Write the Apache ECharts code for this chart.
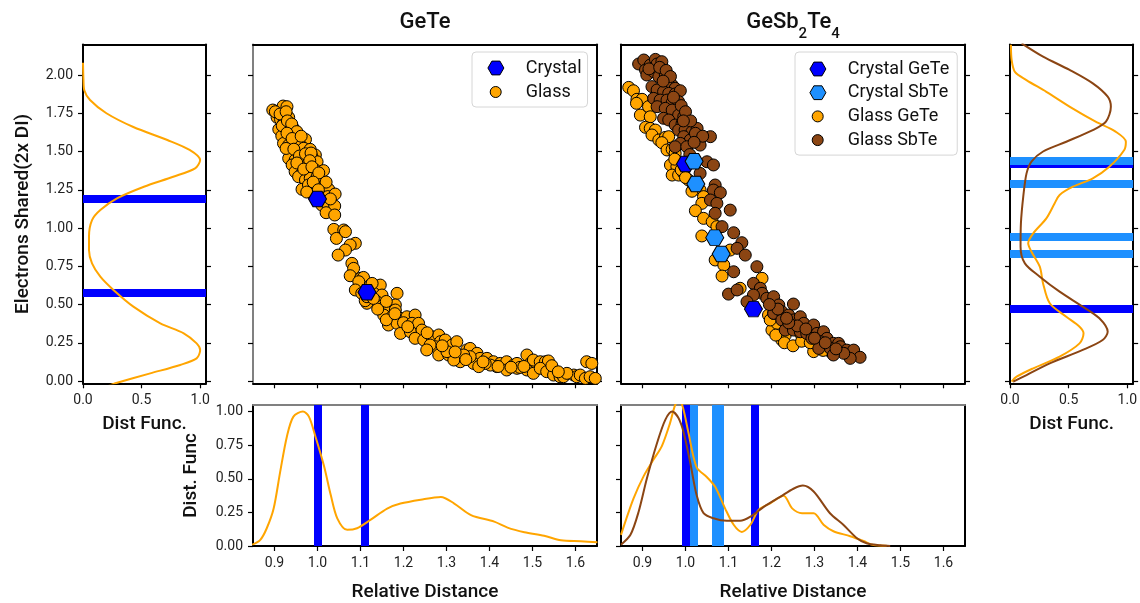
<!DOCTYPE html>
<html>
<head>
<meta charset="utf-8">
<script src="https://cdn.jsdelivr.net/npm/echarts@6/dist/echarts.min.js"></script>
<style>
  html, body { margin: 0; padding: 0; background: #fff; }
  #chart { width: 1140px; height: 603px; }
</style>
</head>
<body>
<div id="chart"></div>
<script>
// ---- colours and fonts ----
const FONT = 'Roboto';
const INK = '#111';
const ORANGE = '#ffa500', BROWN = '#8b4513', BLUE = '#0000ff', SKY = '#1e90ff';

// ---- axis ticks and ranges ----
const sharedTicks = [0, 0.25, 0.5, 0.75, 1, 1.25, 1.5, 1.75, 2];
const distTicks = [0.9, 1.0, 1.1, 1.2, 1.3, 1.4, 1.5, 1.6];
const densityTicks = [0, 0.5, 1];
const densityTicksFine = [0, 0.25, 0.5, 0.75, 1];
const sharedRange = [-0.015, 2.2];
const distRange = [0.85, 1.65];
const densityRange = [0, 1.05];

// ---- GeTe: [relative distance, electrons shared] ----
const geteCrystal = [[1.0, 1.19], [1.115, 0.58]];
const geteGlass = [
  [0.896,1.771],[0.920,1.797],[0.929,1.793],[0.906,1.723],[0.914,1.710],[0.933,1.723],[0.921,1.684],[0.910,1.645],[0.925,1.640],[0.944,1.651],
  [0.917,1.601],[0.937,1.597],[0.948,1.608],[0.956,1.575],[0.972,1.579],[0.921,1.553],[0.933,1.542],[0.944,1.531],[0.960,1.542],[0.937,1.499],
  [0.952,1.499],[0.968,1.521],[0.983,1.514],[0.995,1.477],[0.933,1.455],[0.948,1.444],[0.964,1.455],[0.976,1.455],[0.987,1.466],[0.941,1.412],
  [0.956,1.401],[0.972,1.412],[0.991,1.423],[0.999,1.433],[0.948,1.368],[0.964,1.357],[0.979,1.379],[0.995,1.379],[1.014,1.375],[0.956,1.335],
  [0.972,1.314],[0.983,1.325],[0.999,1.335],[1.006,1.303],[0.964,1.253],[0.979,1.281],[0.995,1.274],[1.014,1.270],[1.026,1.253],[0.987,1.227],
  [1.006,1.216],[1.024,1.205],[1.041,1.222],[1.010,1.150],[1.022,1.161],[1.040,1.144],[1.020,1.100],[1.040,1.085],
  [0.902,1.760],[0.913,1.745],[0.927,1.760],[0.918,1.668],[0.930,1.700],[0.940,1.680],[0.952,1.630],[0.929,1.620],[0.941,1.585],[0.962,1.600],
  [0.927,1.520],[0.945,1.515],[0.958,1.470],[0.972,1.485],[0.985,1.490],[0.952,1.425],[0.982,1.440],[0.968,1.385],[0.987,1.400],[1.003,1.360],
  [0.990,1.300],[1.020,1.300],[1.002,1.250],[1.030,1.190],[1.000,1.190],[0.975,1.235],
  [1.038,0.991],[1.061,0.987],[1.044,0.932],[1.065,0.976],[1.088,0.900],[1.076,0.889],[1.065,0.856],[1.048,0.823],[1.080,0.769],[1.084,0.736],
  [1.076,0.688],[1.100,0.671],[1.107,0.677],[1.096,0.649],[1.088,0.595],[1.123,0.627],[1.146,0.627],[1.131,0.573],[1.150,0.562],[1.138,0.518],
  [1.185,0.573],[1.115,0.508],[1.146,0.486],[1.165,0.475],[1.181,0.497],[1.181,0.464],[1.154,0.431],[1.173,0.420],[1.193,0.410],[1.208,0.420],
  [1.227,0.431],[1.165,0.366],[1.185,0.377],[1.200,0.381],[1.220,0.377],[1.235,0.377],[1.193,0.311],[1.216,0.322],[1.243,0.333],[1.227,0.279],
  [1.247,0.268],[1.266,0.290],[1.282,0.301],[1.286,0.257],[1.297,0.268],[1.274,0.224],[1.293,0.203],[1.313,0.235],[1.324,0.257],[1.282,0.170],
  [1.305,0.170],[1.328,0.148],[1.347,0.203],[1.355,0.213],[1.371,0.181],[1.378,0.148],[1.363,0.115],[1.332,0.126],[1.394,0.148],[1.409,0.126],
  [1.425,0.115],[1.440,0.126],[1.456,0.104],[1.440,0.072],[1.464,0.083],[1.487,0.170],[1.495,0.115],[1.502,0.137],[1.518,0.126],[1.530,0.126],
  [1.537,0.131],[1.487,0.072],[1.502,0.050],[1.518,0.083],[1.533,0.061],[1.549,0.039],[1.564,0.028],[1.572,0.028],[1.596,0.039],[1.603,0.028],
  [1.611,0.039],[1.626,0.126],[1.638,0.115],[1.623,0.017],[1.634,0.028],[1.646,0.017],[1.464,0.115],[1.471,0.089],[1.417,0.094],[1.402,0.104],
  [1.390,0.115],[1.375,0.094],[1.355,0.159],[1.340,0.170],[1.317,0.137],[1.301,0.192],[1.262,0.235],[1.254,0.203],
  [1.103,0.573],[1.111,0.525],[1.127,0.638],[1.115,0.551],
  [1.160,0.400],[1.180,0.440],[1.140,0.470],[1.130,0.540],[1.160,0.520],
  [1.210,0.355],[1.255,0.315],[1.290,0.230],[1.320,0.190],[1.345,0.140],[1.385,0.125],[1.420,0.095],[1.450,0.090],[1.480,0.095],[1.545,0.100],
  [1.580,0.050],[1.560,0.060]
];

// ---- GeSb2Te4: [relative distance, electrons shared] ----
const gstCrystalGeTe = [[1.0, 1.418], [1.158, 0.47]];
const gstCrystalSbTe = [[1.02, 1.436], [1.024, 1.288], [1.068, 0.937], [1.083, 0.83]];
const gstGlassGeTe = [
  [0.868,1.919],[0.879,1.897],[0.887,1.841],[0.899,1.841],[0.886,1.815],[0.895,1.738],[0.914,1.793],[0.918,1.727],[0.907,1.658],[0.918,1.651],
  [0.930,1.640],[0.922,1.608],[0.938,1.575],[0.953,1.592],[0.961,1.597],[0.945,1.558],[0.957,1.510],[0.969,1.514],[0.976,1.488],[0.965,1.412],
  [0.980,1.401],[0.969,1.346],[0.984,1.346],[0.996,1.357],[1.007,1.314],[1.019,1.270],[1.034,1.248],[1.042,1.205],[1.038,1.161],[1.023,1.113],
  [1.042,1.063],[1.062,1.041],[1.073,1.009],[1.038,0.948],[1.069,0.791],[1.089,0.758],[1.085,0.686],[1.104,0.856],[1.127,0.606],[1.178,0.671],
  [1.193,0.431],[1.201,0.333],[1.224,0.268],[1.232,0.300],[1.255,0.344],[1.298,0.192],[1.337,0.192],[1.267,0.311],[1.282,0.290],[1.213,0.377],
  [1.306,0.235],[1.329,0.224],[1.197,0.399],[1.205,0.442],
  [0.990,1.380],[1.000,1.330],[1.015,1.240],[0.975,1.450],[1.230,0.250],[1.250,0.230],[1.270,0.260],[1.290,0.250],[1.320,0.200],[1.210,0.300]
];
const gstGlassSbTe = [
  [0.891,2.072],[0.903,2.098],[0.907,2.033],[0.918,2.065],[0.930,2.102],[0.934,2.072],[0.945,2.087],[0.910,2.000],[0.926,2.022],[0.938,1.989],
  [0.953,2.000],[0.961,1.956],[0.969,1.934],[0.976,1.913],[0.922,1.924],[0.934,1.902],[0.949,1.891],[0.961,1.880],[0.976,1.876],[0.988,1.897],
  [0.926,1.847],[0.941,1.836],[0.957,1.836],[0.969,1.819],[0.984,1.826],[0.934,1.793],[0.953,1.782],[0.969,1.771],[0.984,1.738],[0.996,1.727],
  [0.949,1.717],[0.961,1.706],[0.976,1.673],[0.992,1.684],[1.003,1.688],[0.984,1.640],[0.999,1.640],[1.015,1.629],[1.027,1.651],[0.996,1.597],
  [1.011,1.575],[1.023,1.619],[1.034,1.542],[1.058,1.597],[0.988,1.553],[0.976,1.531],[1.003,1.531],[1.050,1.433],[1.065,1.412],[1.034,1.357],
  [1.069,1.281],[1.065,1.248],[1.081,1.231],[1.058,1.183],[1.073,1.161],[1.069,1.096],[1.104,1.117],[1.085,1.009],[1.112,0.969],[1.131,0.904],
  [1.120,0.867],[1.139,0.823],[1.166,0.747],[1.112,0.714],[1.100,0.568],[1.120,0.595],[1.158,0.638],[1.174,0.606],[1.178,0.573],[1.158,0.562],
  [1.143,0.518],[1.189,0.540],[1.205,0.551],[1.251,0.503],[1.217,0.497],[1.205,0.442],[1.224,0.453],[1.240,0.431],[1.224,0.399],[1.251,0.399],
  [1.267,0.420],[1.275,0.377],[1.298,0.366],[1.232,0.333],[1.251,0.333],[1.267,0.322],[1.282,0.311],[1.306,0.311],[1.321,0.322],[1.329,0.279],
  [1.344,0.246],[1.356,0.246],[1.313,0.257],[1.337,0.213],[1.360,0.224],[1.375,0.202],[1.391,0.202],[1.406,0.155],[1.383,0.148],[1.368,0.181],
  [1.344,0.170],[1.310,0.213],[1.294,0.279],
  [0.915,2.040],[0.940,2.050],[0.955,2.030],[0.965,1.990],[0.948,1.960],[0.972,1.855],[0.990,1.800],[1.000,1.760],[1.012,1.700],[0.995,1.700],
  [1.040,1.600],[1.020,1.560],[1.010,1.480],[1.260,0.360],[1.280,0.340],[1.240,0.380],[1.300,0.280],[1.325,0.250],[1.350,0.210],[1.235,0.410],
  [1.215,0.470],[1.195,0.500]
];

// ---- normalised distribution functions ----
// electrons shared: [density, electrons shared]
const geteSharedDensity = [
  [0.0,2.08],[0.004,1.97],[0.011,1.90],[0.06,1.837],[0.2,1.75],[0.43,1.66],[0.72,1.575],[0.91,1.51],[1.0,1.444],[0.957,1.39],
  [0.77,1.335],[0.52,1.27],[0.29,1.194],[0.148,1.118],[0.077,1.052],[0.051,0.943],[0.051,0.856],[0.077,0.769],[0.148,0.682],[0.26,0.595],
  [0.43,0.486],[0.66,0.377],[0.86,0.312],[0.97,0.246],[1.0,0.203],[0.97,0.148],[0.83,0.105],[0.574,0.05],[0.276,-0.015],[0.22,-0.03]
];
const gstSharedDensityGeTe = [
  [0.008,2.198],[0.014,2.098],[0.042,2.02],[0.14,1.967],[0.31,1.89],[0.536,1.78],[0.73,1.695],[0.90,1.63],[0.988,1.564],[0.974,1.51],
  [0.847,1.40],[0.706,1.325],[0.536,1.27],[0.423,1.216],[0.38,1.16],[0.31,1.063],[0.198,0.965],[0.155,0.90],[0.183,0.845],[0.254,0.747],
  [0.282,0.638],[0.339,0.508],[0.48,0.42],[0.593,0.355],[0.627,0.312],[0.593,0.246],[0.423,0.159],[0.198,0.083],[0.056,0.028],[0.014,-0.004]
];
const gstSharedDensitySbTe = [
  [0.099,2.207],[0.282,2.12],[0.508,2.033],[0.706,1.945],[0.833,1.858],[0.86,1.793],[0.818,1.695],[0.706,1.64],[0.48,1.564],[0.282,1.50],
  [0.183,1.434],[0.141,1.357],[0.113,1.205],[0.093,1.03],[0.09,0.878],[0.127,0.769],[0.254,0.682],[0.423,0.584],[0.62,0.486],[0.762,0.41],
  [0.833,0.322],[0.79,0.268],[0.62,0.203],[0.339,0.115],[0.141,0.039],[0.028,-0.004]
];
// relative distance: [relative distance, density]
const geteDistDensity = [
  [0.848,0.01],[0.867,0.046],[0.882,0.132],[0.898,0.279],[0.913,0.548],[0.929,0.817],[0.944,0.963],[0.966,1.0],[0.98,0.963],[0.995,0.817],
  [1.015,0.597],[1.031,0.377],[1.046,0.206],[1.069,0.12],[1.092,0.132],[1.123,0.194],[1.162,0.279],[1.193,0.316],[1.24,0.345],[1.287,0.365],
  [1.318,0.316],[1.357,0.23],[1.411,0.181],[1.442,0.137],[1.481,0.103],[1.527,0.076],[1.566,0.042],[1.612,0.035],[1.651,0.027]
];
const gstDistDensityGeTe = [
  [0.85,0.083],[0.879,0.352],[0.903,0.522],[0.926,0.645],[0.945,0.743],[0.964,0.914],[0.976,1.05],[0.985,1.09],[0.994,1.03],[1.007,0.841],
  [1.026,0.585],[1.05,0.512],[1.069,0.44],[1.092,0.28],[1.112,0.158],[1.131,0.105],[1.151,0.158],[1.17,0.269],[1.197,0.318],[1.228,0.374],
  [1.248,0.28],[1.271,0.244],[1.298,0.244],[1.321,0.158],[1.344,0.11],[1.383,0.073],[1.414,0.037],[1.437,0.007],[1.468,0.002]
];
const gstDistDensitySbTe = [
  [0.85,0.01],[0.872,0.083],[0.891,0.255],[0.91,0.5],[0.934,0.768],[0.953,0.939],[0.969,1.0],[0.984,0.95],[0.996,0.841],[1.011,0.621],
  [1.026,0.377],[1.042,0.244],[1.065,0.206],[1.096,0.187],[1.127,0.187],[1.151,0.218],[1.182,0.291],[1.22,0.365],[1.251,0.426],[1.273,0.45],
  [1.298,0.406],[1.336,0.244],[1.367,0.158],[1.398,0.06],[1.421,0.02],[1.453,0.005],[1.476,0.0]
];

// ---- symbols ----
const HEX = 'path://M0,50 L25,6.7 L75,6.7 L100,50 L75,93.3 L25,93.3 Z';
const HEX_ICON = 'path://M0,0 M0,16 M0.4,8 L4.4,1.1 L12.4,1.1 L16.4,8 L12.4,14.9 L4.4,14.9 Z';
const DOT_ICON = 'path://M0,0 M16,16 M13.5,8 A5.5,5.5 0 1 1 2.5,8 A5.5,5.5 0 1 1 13.5,8 Z';

// ---- panel layout: 0 left density, 1 GeTe, 2 GeSb2Te4, 3 right density, 4/5 distance densities ----
const grids = [
  { left: 83, top: 44.4, width: 123, height: 338.9 },
  { left: 253, top: 44.4, width: 344, height: 338.9 },
  { left: 621, top: 44.4, width: 344, height: 338.9 },
  { left: 1010, top: 44.4, width: 124, height: 338.9 },
  { left: 253, top: 404.9, width: 344, height: 143.1 },
  { left: 621, top: 404.9, width: 344, height: 143.1 }
];

const nameStyle = { fontFamily: FONT, fontSize: 19, fontWeight: 500, color: INK };

function axis(gridIndex, position, range, o = {}) {
  const ticks = o.ticks;
  return {
    type: 'value', gridIndex, position, min: range[0], max: range[1],
    axisLine: { show: true, onZero: false, lineStyle: { color: o.line || '#000', width: 2 } },
    axisTick: ticks ? { show: true, length: 5, customValues: ticks, lineStyle: { color: '#000', width: 1.2 } } : { show: false },
    axisLabel: (ticks && o.labels) ? {
      show: true, customValues: ticks, margin: 10,
      formatter: v => Number(v).toFixed(o.digits),
      color: '#222', fontFamily: FONT, fontSize: 14
    } : { show: false },
    splitLine: { show: false },
    name: o.name || '', nameLocation: 'middle', nameGap: o.nameGap || 0, nameTextStyle: nameStyle
  };
}

const xAxes = [
  axis(0, 'bottom', densityRange, { ticks: densityTicks, labels: true, digits: 1, name: 'Dist Func.', nameGap: 31 }),
  axis(0, 'top', densityRange),
  axis(1, 'bottom', distRange, { ticks: distTicks }),
  axis(1, 'top', distRange),
  axis(2, 'bottom', distRange, { ticks: distTicks }),
  axis(2, 'top', distRange),
  axis(3, 'bottom', densityRange, { ticks: densityTicks, labels: true, digits: 1, name: 'Dist Func.', nameGap: 31 }),
  axis(3, 'top', densityRange),
  axis(4, 'bottom', distRange, { ticks: distTicks, labels: true, digits: 1, name: 'Relative Distance', nameGap: 37 }),
  axis(4, 'top', distRange, { line: '#808080' }),
  axis(5, 'bottom', distRange, { ticks: distTicks, labels: true, digits: 1, name: 'Relative Distance', nameGap: 37 }),
  axis(5, 'top', distRange, { line: '#808080' })
];
const yAxes = [
  axis(0, 'left', sharedRange, { ticks: sharedTicks, labels: true, digits: 2, name: 'Electrons Shared(2x DI)', nameGap: 50 }),
  axis(0, 'right', sharedRange, { ticks: sharedTicks }),
  axis(1, 'left', sharedRange, { ticks: sharedTicks, line: '#808080' }),
  axis(1, 'right', sharedRange, { ticks: sharedTicks }),
  axis(2, 'left', sharedRange, { ticks: sharedTicks }),
  axis(2, 'right', sharedRange, { ticks: sharedTicks }),
  axis(3, 'left', sharedRange, { ticks: sharedTicks }),
  axis(3, 'right', sharedRange, { ticks: sharedTicks }),
  axis(4, 'left', densityRange, { ticks: densityTicksFine, labels: true, digits: 2, name: 'Dist. Func', nameGap: 52 }),
  axis(4, 'right', densityRange),
  axis(5, 'left', densityRange, { ticks: densityTicksFine }),
  axis(5, 'right', densityRange)
];

// ---- series helpers ----
const at = g => ({ xAxisIndex: 2 * g, yAxisIndex: 2 * g });

const curve = (g, name, data, color, z) => ({
  type: 'line', name, ...at(g), data, smooth: 0.3, symbol: 'none', silent: true, z,
  lineStyle: { color, width: 2 }
});

// thick reference lines at the crystal bond values
const bands = (g, name, values, key, color, z) => ({
  type: 'line', name, ...at(g), data: [], silent: true, z,
  markLine: {
    silent: true, z, symbol: ['none', 'none'], label: { show: false },
    lineStyle: { color, width: 8, type: 'solid', opacity: 1 },
    emphasis: { disabled: true },
    data: values.map(v => ({ [key]: v }))
  }
});

const dots = (g, name, data, color, z) => ({
  type: 'scatter', name, ...at(g), data, z, symbol: 'circle', symbolSize: 12,
  itemStyle: { color, borderColor: '#000', borderWidth: 1, opacity: 1 }
});

const hexes = (g, name, data, color, z) => ({
  type: 'scatter', name, ...at(g), data, z, symbol: HEX, symbolSize: [18, 15.5],
  itemStyle: { color, borderColor: '#000', borderWidth: 1, opacity: 1 }
});

const series = [
  // left: electrons shared distribution, GeTe
  bands(0, 'geteSharedBands', geteCrystal.map(p => p[1]), 'yAxis', BLUE, 1),
  curve(0, 'geteSharedCurve', geteSharedDensity, ORANGE, 4),
  // GeTe scatter
  hexes(1, 'Crystal', geteCrystal, BLUE, 6),
  dots(1, 'Glass', geteGlass, ORANGE, 3),
  // GeSb2Te4 scatter
  hexes(2, 'Crystal GeTe', gstCrystalGeTe, BLUE, 6),
  hexes(2, 'Crystal SbTe', gstCrystalSbTe, SKY, 7),
  dots(2, 'Glass GeTe', gstGlassGeTe, ORANGE, 3),
  dots(2, 'Glass SbTe', gstGlassSbTe, BROWN, 4),
  // right: electrons shared distribution, GeSb2Te4
  bands(3, 'gstSharedBandsGeTe', gstCrystalGeTe.map(p => p[1]), 'yAxis', BLUE, 1),
  bands(3, 'gstSharedBandsSbTe', gstCrystalSbTe.map(p => p[1]), 'yAxis', SKY, 2),
  curve(3, 'gstSharedCurveGeTe', gstSharedDensityGeTe, ORANGE, 4),
  curve(3, 'gstSharedCurveSbTe', gstSharedDensitySbTe, BROWN, 5),
  // bottom: relative distance distributions
  bands(4, 'geteDistBands', geteCrystal.map(p => p[0]), 'xAxis', BLUE, 1),
  curve(4, 'geteDistCurve', geteDistDensity, ORANGE, 4),
  bands(5, 'gstDistBandsGeTe', gstCrystalGeTe.map(p => p[0]), 'xAxis', BLUE, 1),
  bands(5, 'gstDistBandsSbTe', gstCrystalSbTe.map(p => p[0]), 'xAxis', SKY, 2),
  curve(5, 'gstDistCurveGeTe', gstDistDensityGeTe, ORANGE, 4),
  curve(5, 'gstDistCurveSbTe', gstDistDensitySbTe, BROWN, 5)
];

const legendBase = {
  orient: 'vertical', selectedMode: false, itemWidth: 30, itemHeight: 16,
  backgroundColor: 'rgba(255,255,255,0.8)', borderColor: '#d6d6d6', borderWidth: 1, borderRadius: 4,
  itemStyle: { borderColor: '#000', borderWidth: 1 },
  textStyle: { fontFamily: FONT, fontSize: 18, color: INK, padding: [0, 0, 0, 10], lineHeight: 18 }
};

const titleRich = {
  a: { fontFamily: FONT, fontSize: 22, fontWeight: 500, color: INK, verticalAlign: 'top' },
  s: { fontFamily: FONT, fontSize: 15, fontWeight: 500, color: INK, verticalAlign: 'top', padding: [16, 0, 0, 0] }
};

const chart = echarts.init(document.getElementById('chart'), null, { renderer: 'canvas' });
chart.setOption({
  animation: false,
  backgroundColor: '#fff',
  textStyle: { fontFamily: FONT },
  title: [
    { text: '{a|GeTe}', left: 425, top: 11, padding: 0, textAlign: 'center', textStyle: { rich: titleRich } },
    { text: '{a|GeSb}{s|2}{a|Te}{s|4}', left: 793, top: 11, padding: 0, textAlign: 'center', textStyle: { rich: titleRich } }
  ],
  legend: [
    Object.assign({}, legendBase, {
      left: 472, top: 52, padding: [7, 6, 6, 15], itemGap: 6,
      data: [{ name: 'Crystal', icon: HEX_ICON }, { name: 'Glass', icon: DOT_ICON }]
    }),
    Object.assign({}, legendBase, {
      left: 795, top: 52, padding: [8, 8, 6, 14], itemGap: 5.7,
      data: [
        { name: 'Crystal GeTe', icon: HEX_ICON }, { name: 'Crystal SbTe', icon: HEX_ICON },
        { name: 'Glass GeTe', icon: DOT_ICON }, { name: 'Glass SbTe', icon: DOT_ICON }
      ]
    })
  ],
  grid: grids,
  xAxis: xAxes,
  yAxis: yAxes,
  series
});
</script>
</body>
</html>
